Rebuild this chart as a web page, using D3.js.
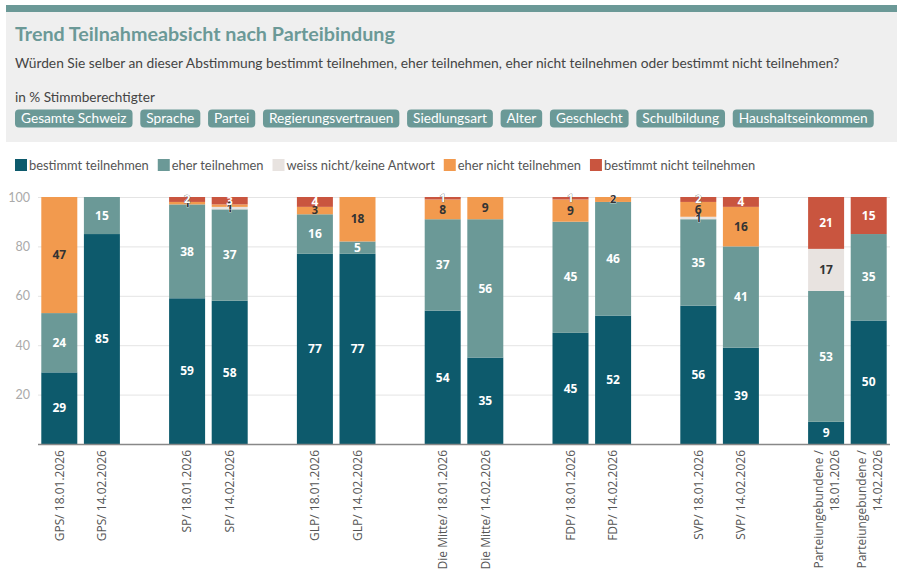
<!DOCTYPE html>
<html><head><meta charset="utf-8">
<script src="https://cdn.jsdelivr.net/npm/d3@7"></script>
<style>
body{margin:0;background:#fff;}
svg{font-family:"Open Sans","Noto Sans",sans-serif;}
</style></head>
<body><svg id="c" width="900" height="575"></svg>
<script>
const groups = ["GPS","SP","GLP","Die Mitte","FDP","SVP","Parteiungebundene"];
const dates = ["18.01.2026","14.02.2026"];
const seriesNames = ["bestimmt teilnehmen","eher teilnehmen","weiss nicht/keine Antwort","eher nicht teilnehmen","bestimmt nicht teilnehmen"];
const colors = ["#0d5a6c","#6b9997","#e8e3e0","#f29a4e","#c9553f"];
const labelColors = ["#fff","#fff","#333","#333","#fff"];
// values per bar, order follows groups x dates
const bestimmt   = [29,85, 59,58, 77,77, 54,35, 45,52, 56,39, 9,50];
const eher       = [24,15, 38,37, 16,5,  37,56, 45,46, 35,41, 53,35];
const weissNicht = [0,0,   0,1,   0,0,   0,0,   0,0,   1,0,   17,0];
const eherNicht  = [47,0,  1,1,   3,18,  8,9,   9,2,   6,16,  0,0];
const bestNicht  = [0,0,   2,3,   4,0,   1,0,   1,0,   2,4,   21,15];
const yTicks = [20,40,60,80,100];
const filters = ["Gesamte Schweiz","Sprache","Partei","Regierungsvertrauen","Siedlungsart","Alter","Geschlecht","Schulbildung","Haushaltseinkommen"];

const svg = d3.select("#c");
function fitWidth(sel, w){
  const cur = sel.node().getComputedTextLength();
  const fs = +sel.attr("font-size");
  sel.attr("font-size", fs*w/cur);
  return fs*w/cur;
}
// header
svg.append("rect").attr("x",6).attr("y",5).attr("width",891).attr("height",137).attr("fill","#efefef");
svg.append("rect").attr("x",6).attr("y",5).attr("width",891).attr("height",7).attr("fill","#6b9997");
const title = svg.append("text").attr("x",15).attr("y",41).text("Trend Teilnahmeabsicht nach Parteibindung")
  .attr("font-size",20).attr("font-weight",700).attr("fill","#6b9997").attr("font-family","Lato");
fitWidth(title,380);
const sub = svg.append("text").attr("x",15).attr("y",68).text("Würden Sie selber an dieser Abstimmung bestimmt teilnehmen, eher teilnehmen, eher nicht teilnehmen oder bestimmt nicht teilnehmen?")
  .attr("font-size",14).attr("fill","#444").attr("font-family","Lato");
fitWidth(sub,825);
const unit = svg.append("text").attr("x",15).attr("y",102).text("in % Stimmberechtigter").attr("font-size",13).attr("fill","#444").attr("font-family","Lato");
fitWidth(unit,140);

// filter buttons: font fitted so that the row spans the header width
const pad = 6, gap = 7.75, rowW = 859;
const probes = filters.map(f=>svg.append("text").attr("font-size",13).attr("font-family","Lato").text(f));
const sumW = d3.sum(probes, p=>p.node().getComputedTextLength());
probes.forEach(p=>p.remove());
const bfs = 13*(rowW - filters.length*2*pad - (filters.length-1)*gap)/sumW;
let fx = 15;
filters.forEach(f=>{
  const g = svg.append("g");
  const t = g.append("text").attr("y",123).attr("font-size",bfs).attr("font-family","Lato").attr("fill","#fff").text(f);
  const w = t.node().getComputedTextLength();
  g.insert("rect","text").attr("x",fx).attr("y",109.5).attr("width",w+2*pad).attr("height",18).attr("rx",4).attr("fill","#6b9997");
  t.attr("x",fx+pad);
  fx += w+2*pad+gap;
});
// legend
const lprobe = svg.append("text").attr("font-size",13).attr("font-family","Lato").text(seriesNames[0]);
const lfs = fitWidth(lprobe,120); lprobe.remove();
let lx = 15;
seriesNames.forEach((s,i)=>{
  svg.append("rect").attr("x",lx).attr("y",159).attr("width",12).attr("height",12).attr("fill",colors[i]);
  const t = svg.append("text").attr("x",lx+14).attr("y",170).attr("font-size",lfs).attr("font-family","Lato").attr("fill","#555").text(s);
  lx += 14 + t.node().getComputedTextLength() + 9;
});

// chart
const plotTop = 197, plotBottom = 444, plotLeft = 38, plotRight = 890;
const y = d3.scaleLinear().domain([0,100]).range([plotBottom,plotTop]);
const x0 = d3.scaleBand().domain(groups).range([plotLeft,plotRight]).paddingInner(1/3).paddingOuter(0);
const x1 = d3.scaleBand().domain(dates).range([0,x0.bandwidth()]).paddingInner(0.155).paddingOuter(0.0775);

const gy = svg.append("g").attr("transform",`translate(${plotLeft},0)`)
  .call(d3.axisLeft(y).tickValues(yTicks).tickSize(-(plotRight-plotLeft)).tickFormat(d3.format("d")));
gy.select(".domain").remove();
gy.selectAll(".tick line").attr("stroke","#e4e4e4");
gy.selectAll(".tick text").attr("fill","#aaa").attr("font-size",12.5).attr("x",-8).attr("font-family","Lato");

const rows = [];
groups.forEach((g,gi)=>dates.forEach((d,di)=>{
  const k = gi*2+di;
  rows.push({group:g,date:d,v:[bestimmt[k],eher[k],weissNicht[k],eherNicht[k],bestNicht[k]]});
}));
const bars = svg.append("g");
rows.forEach(r=>{
  const bx = x0(r.group)+x1(r.date), bw = x1.bandwidth();
  let acc = 0;
  r.v.forEach((v,i)=>{
    if(v<=0) return;
    const y0 = acc, y1 = acc+v; acc = y1;
    bars.append("rect").attr("x",bx).attr("width",bw).attr("y",y(y1)).attr("height",y(y0)-y(y1)).attr("fill",colors[i]);
  });
  acc = 0;
  r.v.forEach((v,i)=>{
    if(v<=0) return;
    const y0 = acc, y1 = acc+v; acc = y1;
    const small = v<=3;
    const t = bars.append("text").attr("x",bx+bw/2).attr("y",(y(y0)+y(y1))/2).attr("dy","0.35em")
      .attr("text-anchor","middle").attr("font-size",small?11:12).attr("font-weight",700)
      .attr("font-family","Open Sans")
      .attr("fill",labelColors[i]).text(v);
    if(v<=2) t.attr("stroke",labelColors[i]==="#fff"?"#555":"#fff").attr("stroke-width",0.6).attr("paint-order","stroke");
  });
});
svg.append("line").attr("x1",plotLeft).attr("x2",plotRight).attr("y1",plotBottom+0.5).attr("y2",plotBottom+0.5).attr("stroke","#888").attr("stroke-width",1.5);

// x labels
const xl = svg.append("g");
rows.forEach(r=>{
  const cx = x0(r.group)+x1(r.date)+x1.bandwidth()/2;
  const t = xl.append("text").attr("transform",`translate(${cx},450) rotate(-90)`)
    .attr("text-anchor","end").attr("font-size",12).attr("fill","#555");
  if(r.group==="Parteiungebundene"){
    t.append("tspan").attr("x",0).attr("y",-3).text(r.group+" /");
    t.append("tspan").attr("x",0).attr("y",13).text(r.date);
  } else {
    t.attr("dy","0.35em").text(r.group+"/ "+r.date);
  }
});
</script></body></html>
